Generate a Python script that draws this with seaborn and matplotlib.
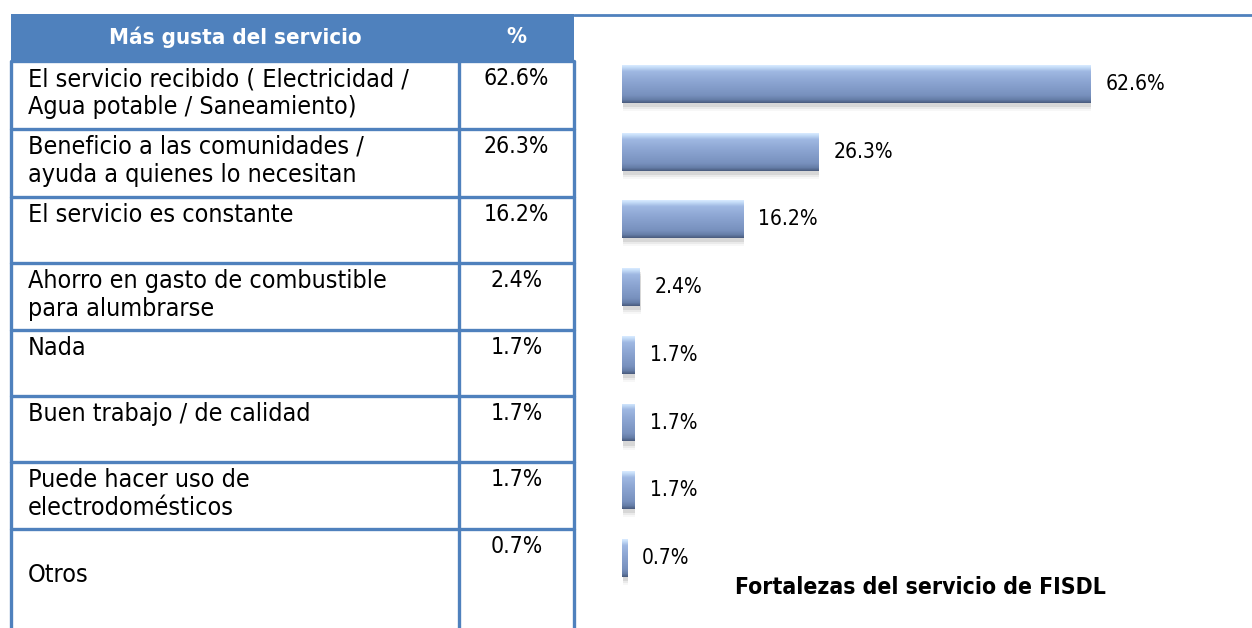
import matplotlib
matplotlib.use("Agg")
import matplotlib.pyplot as plt
import seaborn as sns
import pandas as pd
import numpy as np
from matplotlib.colors import LinearSegmentedColormap
from matplotlib.patches import Rectangle

# data
header_label = "Más gusta del servicio"
header_pct = "%"
table_labels = [
    "El servicio recibido ( Electricidad /\nAgua potable / Saneamiento)",
    "Beneficio a las comunidades /\nayuda a quienes lo necesitan",
    "El servicio es constante",
    "Ahorro en gasto de combustible\npara alumbrarse",
    "Nada",
    "Buen trabajo / de calidad",
    "Puede hacer uso de\nelectrodomésticos",
    "\nOtros",
]
values = [62.6, 26.3, 16.2, 2.4, 1.7, 1.7, 1.7, 0.7]
value_labels = ["62.6%", "26.3%", "16.2%", "2.4%", "1.7%", "1.7%", "1.7%", "0.7%"]
title = "Fortalezas del servicio de FISDL"

BLUE = "#4F81BD"
W, H = 1252, 628

sns.set_theme(style="white")
plt.rcParams["font.family"] = ["DejaVu Sans"]
plt.rcParams["font.stretch"] = "condensed"

fig = plt.figure(figsize=(W / 100, H / 100), dpi=100)

# ---- table on the left, drawn in pixel coordinates
tab = fig.add_axes([0, 0, 1, 1])
tab.set_xlim(0, W)
tab.set_ylim(H, 0)
tab.axis("off")

row_edges = [61, 129, 197, 263, 330, 396, 462, 529, 640]
x_left, x_div, x_right = 11, 459, 574

tab.add_patch(Rectangle((x_left, 14), x_right - x_left, row_edges[0] - 14,
                        facecolor=BLUE, edgecolor="none"))
tab.plot([x_right, W], [15, 15], color=BLUE, lw=2)
for y in row_edges[:-1]:
    tab.plot([x_left, x_right], [y, y], color=BLUE, lw=2.4)
for x in (x_left, x_div, x_right):
    tab.plot([x, x], [row_edges[0], H], color=BLUE, lw=2.4, solid_capstyle="butt")

tab.text((x_left + x_div) / 2, 37, header_label, color="white", fontsize=16,
         fontweight="bold", ha="center", va="center")
tab.text((x_div + x_right) / 2, 37, header_pct, color="white", fontsize=16,
         fontweight="bold", ha="center", va="center")

for i, (lab, vl) in enumerate(zip(table_labels, value_labels)):
    tab.text(28, row_edges[i] + 6, lab, fontsize=18, va="top", ha="left",
             linespacing=1.2, color="black")
    tab.text((x_div + x_right) / 2, row_edges[i] + 6, vl, fontsize=16.5,
             va="top", ha="center", color="black")

# ---- bar chart on the right
bx = fig.add_axes([622 / W, 0, (W - 622) / W, 1])
bx.patch.set_alpha(0)
df = pd.DataFrame({"cat": table_labels, "val": values})
sns.barplot(data=df, x="val", y="cat", orient="h", ax=bx, width=0.56,
            color="#8AA3CF", saturation=1, edgecolor="none")

grad = LinearSegmentedColormap.from_list(
    "bevel", [(0, "#D8EAFF"), (0.06, "#C2DAF6"), (0.16, "#9FB8E2"),
              (0.45, "#8BA4D1"), (0.8, "#7891BE"), (0.92, "#657DA7"),
              (1, "#4A5C7E")])
g = np.linspace(0, 1, 64).reshape(-1, 1)
for p in list(bx.patches):
    x0, y0, w, h = p.get_x(), p.get_y(), p.get_width(), p.get_height()
    for k, a in enumerate([0.10, 0.07, 0.04]):
        bx.add_patch(Rectangle((x0 + 0.1, y0 + 0.06 + 0.03 * k), w, h,
                               facecolor="#404040", alpha=a, edgecolor="none",
                               zorder=0.5))
    im = bx.imshow(g, cmap=grad, aspect="auto", origin="upper",
                   extent=(x0, x0 + w, y0 + h, y0), zorder=2)
    im.set_clip_path(p)

for i, (v, vl) in enumerate(zip(values, value_labels)):
    bx.text(v + 2.0, i, vl, fontsize=15, va="center", ha="left", color="black")

bx.set_xlim(0, (W - 622) / 7.48)
bx.set_ylim((H - 84) / 67.7, -84 / 67.7)
bx.axis("off")

fig.text(920 / W, 1 - 588 / H, title, fontsize=16.5, fontweight="bold",
         ha="center", va="center", color="black")

fig.savefig("out.png", dpi=100)
